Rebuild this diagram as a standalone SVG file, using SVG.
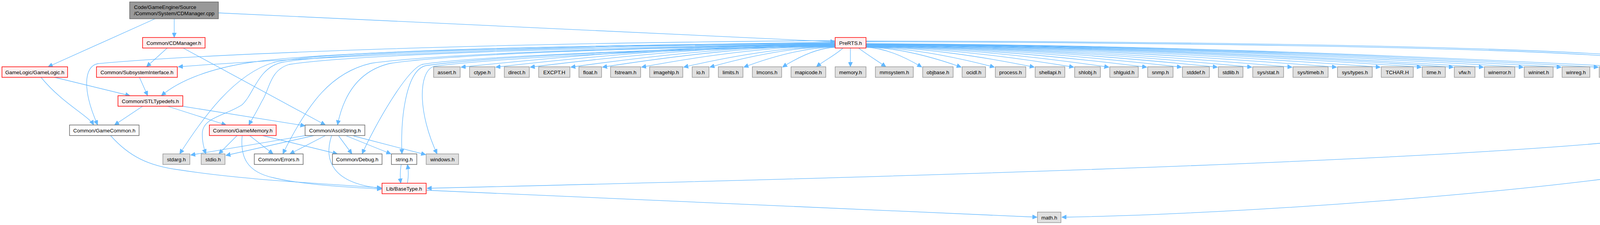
<svg xmlns="http://www.w3.org/2000/svg" width="4354" height="576" viewBox="0 0 4354 576">
<style>
text{font-family:"Liberation Sans",Arial,sans-serif;font-size:13.33px;fill:#000;text-anchor:middle}
.root rect{fill:#999999;stroke:#666666;stroke-width:1.5}
.root text{text-anchor:start}
.r rect{fill:#FFF0F0;stroke:#FF0000;stroke-width:1.5}
.g rect{fill:#E0E0E0;stroke:#999999;stroke-width:1.5}
.w rect{fill:#FFFFFF;stroke:#666666;stroke-width:1.5}
#edges path{fill:none;stroke:#63B8FF;stroke-width:1.3;marker-end:url(#arr)}
</style>
<defs>
<marker id="arr" markerUnits="userSpaceOnUse" viewBox="0 0 12 11" refX="12" refY="5.5" markerWidth="12" markerHeight="11" orient="auto">
<path d="M0,0 L12,5.5 L0,11 z" fill="#63B8FF" stroke="#63B8FF" stroke-width="1"/>
</marker>
</defs>
<rect width="4354" height="576" fill="#FFFFFF"/>
<g id="edges">
<path d="M446,48 L446,96"/>
<path d="M397,48 L123,171"/>
<path d="M559,33 L2138,107"/>
<path d="M428,123 L375,171"/>
<path d="M469,123 L833,320"/>
<path d="M105,198 C160,265 225,295 240,320"/>
<path d="M140,198 L333,245"/>
<path d="M357,198 L378,245"/>
<path d="M365,272 L293,320"/>
<path d="M429,272 L579,320"/>
<path d="M467,272 L781,322"/>
<path d="M283,347 C330,400 380,425 460,435 C620,460 800,468 977,481"/>
<path d="M620,347 C615,400 630,440 700,455 C760,470 860,478 977,484"/>
<path d="M607,347 L560,394"/>
<path d="M639,347 L699,394"/>
<path d="M672,347 L864,394"/>
<path d="M782,347 L488,397"/>
<path d="M804,347 L578,398"/>
<path d="M833,347 L742,394"/>
<path d="M849,347 C828,410 850,470 977,482"/>
<path d="M867,348 L901,394"/>
<path d="M887,348 L1001,394"/>
<path d="M905,348 L1090,396"/>
<path d="M1027,421 C1024,440 1024,455 1026,469"/>
<path d="M1043,469 C1046,450 1046,440 1043,421"/>
<path d="M1091,487 L2655,556"/>
<path d="M2138,104 C1200,110 500,140 250,163 C215,170 210,230 250,320"/>
<path d="M2138,108 C1500,115 800,145 456,171"/>
<path d="M2138,110 C1400,115 800,135 640,160 C540,175 460,205 413,245"/>
<path d="M2138,111 C1300,116 800,135 700,160 C600,190 520,300 460,394"/>
<path d="M2138,112 C1400,118 850,135 720,160 C660,175 650,240 620,268 C580,295 520,300 518,340 C517,360 522,380 527,394"/>
<path d="M2138,113 C1500,120 900,140 740,165 C690,180 690,230 670,260 C655,290 645,305 637,320"/>
<path d="M2138,114 C1600,120 1100,140 950,162 C850,185 790,260 724,394"/>
<path d="M2138,115 C1600,122 1150,140 1000,162 C920,180 880,240 864,320"/>
<path d="M2138,116 C1700,125 1200,145 1080,165 C1040,180 960,320 927,394"/>
<path d="M2138,117 C1700,125 1250,145 1090,168 C1040,180 1025,300 1029,394"/>
<path d="M2138,118 C1700,127 1250,150 1110,170 C1070,185 1070,290 1119,394"/>
<path d="M2217,107 C3000,109 3900,121 4200,150 C4280,160 4298,190 4298,230 L4298,330 C4298,340 4285,346 4260,350 C3900,395 2900,440 1093,482"/>
<path d="M2217,105 C3000,106 3950,118 4250,150 C4330,165 4348,200 4348,250 L4348,405 C4348,420 4330,425 4300,430 C3950,490 3200,548 2718,556"/>
<path d="M2138,112 C1803,114 1467,142 1180,172"/>
<path d="M2138,113 C1834,115 1530,142 1269,172"/>
<path d="M2138,114 C1865,116 1591,143 1357,172"/>
<path d="M2138,115 C1901,117 1664,143 1461,172"/>
<path d="M2138,116 C1929,118 1721,144 1542,172"/>
<path d="M2138,117 C1964,119 1791,144 1642,172"/>
<path d="M2138,118 C2002,120 1866,145 1750,172"/>
<path d="M2138,119 C2026,121 1913,145 1817,172"/>
<path d="M2138,120 C2056,122 1974,146 1904,172"/>
<path d="M2138,121 C2091,123 2044,146 2003,172"/>
<path d="M2158,123 C2140,140 2110,155 2090,171"/>
<path d="M2177,123 L2177,171"/>
<path d="M2198,123 C2220,140 2245,155 2268,171"/>
<path d="M2217,121 C2267,123 2317,146 2360,172"/>
<path d="M2217,120.5 C2302,122.5 2388,146 2461,172"/>
<path d="M2217,120 C2332,122 2447,146 2546,172"/>
<path d="M2217,119.5 C2368,121.5 2519,146 2648,172"/>
<path d="M2217,119 C2403,121 2589,145.5 2749,172"/>
<path d="M2217,118.5 C2435,120.5 2652,145 2839,172"/>
<path d="M2217,118 C2469,120 2720,145 2936,172"/>
<path d="M2217,117.5 C2500,119.5 2783,145 3025,172"/>
<path d="M2217,117 C2532,119 2847,144.5 3117,172"/>
<path d="M2217,116.5 C2563,118.5 2909,144 3205,172"/>
<path d="M2217,116 C2599,118 2981,144 3308,172"/>
<path d="M2217,115.5 C2639,117.5 3061,144 3422,172"/>
<path d="M2217,115 C2678,117 3139,143.5 3534,172"/>
<path d="M2217,114.5 C2715,116.5 3212,143 3639,172"/>
<path d="M2217,114 C2743,116 3270,143 3721,172"/>
<path d="M2217,113.5 C2770,115.5 3324,143 3798,172"/>
<path d="M2217,113 C2806,115 3395,142.5 3900,172"/>
<path d="M2217,112.5 C2840,114.5 3463,142 3997,172"/>
<path d="M2217,112 C2873,114 3530,142 4092,172"/>
<path d="M2217,111.5 C2905,113.5 3593,142 4183,172"/>
</g>
<g id="node_root" class="root"><rect x="332" y="5" width="227" height="43"/><text x="343" y="23">Code/GameEngine/Source</text><text x="343" y="39">/Common/System/CDManager.cpp</text></g>
<g id="node_cdmanager" class="r"><rect x="365" y="96" width="160" height="27"/><text x="445" y="114.5">Common/CDManager.h</text></g>
<g id="node_prerts" class="r"><rect x="2138" y="96" width="79" height="27"/><text x="2177.5" y="114.5">PreRTS.h</text></g>
<g id="node_gamelogic" class="r"><rect x="5" y="171" width="168" height="27"/><text x="89" y="189.5">GameLogic/GameLogic.h</text></g>
<g id="node_subsys" class="r"><rect x="247" y="171" width="207" height="27"/><text x="350.5" y="189.5">Common/SubsystemInterface.h</text></g>
<g id="node_assert" class="g"><rect x="1110" y="171" width="68" height="27"/><text x="1144" y="189.5">assert.h</text></g>
<g id="node_ctype" class="g"><rect x="1202" y="171" width="65" height="27"/><text x="1234.5" y="189.5">ctype.h</text></g>
<g id="node_direct" class="g"><rect x="1291" y="171" width="64" height="27"/><text x="1323" y="189.5">direct.h</text></g>
<g id="node_excpt" class="g"><rect x="1379" y="171" width="80" height="27"/><text x="1419" y="189.5">EXCPT.H</text></g>
<g id="node_float" class="g"><rect x="1482" y="171" width="58" height="27"/><text x="1511" y="189.5">float.h</text></g>
<g id="node_fstream" class="g"><rect x="1563" y="171" width="77" height="27"/><text x="1601.5" y="189.5">fstream.h</text></g>
<g id="node_imagehlp" class="g"><rect x="1663" y="171" width="85" height="27"/><text x="1705.5" y="189.5">imagehlp.h</text></g>
<g id="node_io" class="g"><rect x="1772" y="171" width="43" height="27"/><text x="1793.5" y="189.5">io.h</text></g>
<g id="node_limits" class="g"><rect x="1839" y="171" width="63" height="27"/><text x="1870.5" y="189.5">limits.h</text></g>
<g id="node_lmcons" class="g"><rect x="1926" y="171" width="75" height="27"/><text x="1963.5" y="189.5">lmcons.h</text></g>
<g id="node_mapicode" class="g"><rect x="2025" y="171" width="89" height="27"/><text x="2069.5" y="189.5">mapicode.h</text></g>
<g id="node_memory" class="g"><rect x="2138" y="171" width="79" height="27"/><text x="2177.5" y="189.5">memory.h</text></g>
<g id="node_mmsystem" class="g"><rect x="2241" y="171" width="97" height="27"/><text x="2289.5" y="189.5">mmsystem.h</text></g>
<g id="node_objbase" class="g"><rect x="2362" y="171" width="78" height="27"/><text x="2401" y="189.5">objbase.h</text></g>
<g id="node_ocidl" class="g"><rect x="2463" y="171" width="60" height="27"/><text x="2493" y="189.5">ocidl.h</text></g>
<g id="node_process" class="g"><rect x="2548" y="171" width="78" height="27"/><text x="2587" y="189.5">process.h</text></g>
<g id="node_shellapi" class="g"><rect x="2650" y="171" width="76" height="27"/><text x="2688" y="189.5">shellapi.h</text></g>
<g id="node_shlobj" class="g"><rect x="2751" y="171" width="66" height="27"/><text x="2784" y="189.5">shlobj.h</text></g>
<g id="node_shlguid" class="g"><rect x="2841" y="171" width="73" height="27"/><text x="2877.5" y="189.5">shlguid.h</text></g>
<g id="node_snmp" class="g"><rect x="2938" y="171" width="65" height="27"/><text x="2970.5" y="189.5">snmp.h</text></g>
<g id="node_stddef" class="g"><rect x="3027" y="171" width="69" height="27"/><text x="3061.5" y="189.5">stddef.h</text></g>
<g id="node_stdlib" class="g"><rect x="3119" y="171" width="63" height="27"/><text x="3150.5" y="189.5">stdlib.h</text></g>
<g id="node_sysstat" class="g"><rect x="3207" y="171" width="79" height="27"/><text x="3246.5" y="189.5">sys/stat.h</text></g>
<g id="node_systimeb" class="g"><rect x="3310" y="171" width="90" height="27"/><text x="3355" y="189.5">sys/timeb.h</text></g>
<g id="node_systypes" class="g"><rect x="3424" y="171" width="89" height="27"/><text x="3468.5" y="189.5">sys/types.h</text></g>
<g id="node_tchar" class="g"><rect x="3536" y="171" width="82" height="27"/><text x="3577" y="189.5">TCHAR.H</text></g>
<g id="node_time" class="g"><rect x="3641" y="171" width="59" height="27"/><text x="3670.5" y="189.5">time.h</text></g>
<g id="node_vfw" class="g"><rect x="3723" y="171" width="53" height="27"/><text x="3749.5" y="189.5">vfw.h</text></g>
<g id="node_winerror" class="g"><rect x="3800" y="171" width="78" height="27"/><text x="3839" y="189.5">winerror.h</text></g>
<g id="node_wininet" class="g"><rect x="3902" y="171" width="74" height="27"/><text x="3939" y="189.5">wininet.h</text></g>
<g id="node_winreg" class="g"><rect x="3999" y="171" width="71" height="27"/><text x="4034.5" y="189.5">winreg.h</text></g>
<g id="node_dinput" class="g"><rect x="4094" y="171" width="68" height="27"/><text x="4128" y="189.5">dinput.h</text></g>
<g id="node_atlbase" class="g"><rect x="4185" y="171" width="75" height="27"/><text x="4222.5" y="189.5">atlbase.h</text></g>
<g id="node_stltypedefs" class="r"><rect x="302" y="245" width="166" height="27"/><text x="385" y="263.5">Common/STLTypedefs.h</text></g>
<g id="node_gamecommon" class="w"><rect x="178" y="320" width="178" height="27"/><text x="267" y="338.5">Common/GameCommon.h</text></g>
<g id="node_gamememory" class="r"><rect x="536" y="320" width="171" height="27"/><text x="621.5" y="338.5">Common/GameMemory.h</text></g>
<g id="node_asciistring" class="w"><rect x="781" y="320" width="153" height="27"/><text x="857.5" y="338.5">Common/AsciiString.h</text></g>
<g id="node_stdarg" class="g"><rect x="417" y="394" width="69" height="27"/><text x="451.5" y="412.5">stdarg.h</text></g>
<g id="node_stdio" class="g"><rect x="515" y="394" width="61" height="27"/><text x="545.5" y="412.5">stdio.h</text></g>
<g id="node_errors" class="w"><rect x="651" y="394" width="125" height="27"/><text x="713.5" y="412.5">Common/Errors.h</text></g>
<g id="node_debug" class="w"><rect x="851" y="394" width="127" height="27"/><text x="914.5" y="412.5">Common/Debug.h</text></g>
<g id="node_string" class="w"><rect x="1002" y="394" width="65" height="27"/><text x="1034.5" y="412.5">string.h</text></g>
<g id="node_windows" class="g"><rect x="1091" y="394" width="83" height="27"/><text x="1132.5" y="412.5">windows.h</text></g>
<g id="node_basetype" class="r"><rect x="978" y="469" width="113" height="27"/><text x="1034.5" y="487.5">Lib/BaseType.h</text></g>
<g id="node_math" class="g"><rect x="2656" y="543" width="60" height="27"/><text x="2686" y="561.5">math.h</text></g>
</svg>
